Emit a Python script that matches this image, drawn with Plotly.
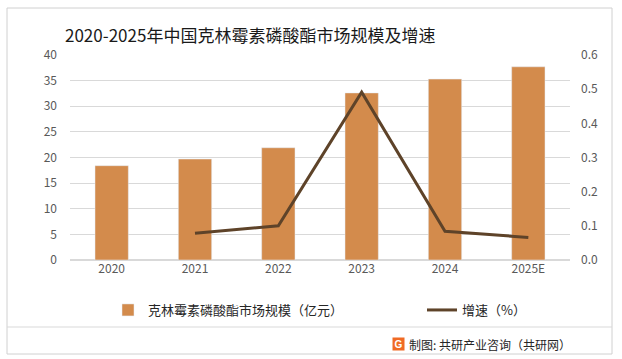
import plotly.graph_objects as go

years = ["2020", "2021", "2022", "2023", "2024", "2025E"]
market_size = [18.4, 19.7, 21.9, 32.6, 35.3, 37.7]
growth_years = ["2021", "2022", "2023", "2024", "2025E"]
growth_rate = [0.078, 0.10, 0.491, 0.084, 0.066]

bar_name = "克林霉素磷酸酯市场规模（亿元）"
line_name = "增速（%）"
title_text = "2020-2025年中国克林霉素磷酸酯市场规模及增速"
footer_text = "制图: 共研产业咨询（共研网）"

W, H = 622, 359
L, R, T, B = 70, 52, 55, 99
PW, PH = W - L - R, H - T - B


def px_x(x):
    return (x - L) / PW


def px_y(y):
    return (H - B - y) / PH


fig = go.Figure()
fig.add_trace(go.Bar(x=years, y=market_size, name=bar_name, marker_color="#D38B4C",
                     width=0.4, yaxis="y", legend="legend"))
fig.add_trace(go.Scatter(x=growth_years, y=growth_rate, name=line_name, mode="lines",
                         line=dict(color="#5E4329", width=3), yaxis="y2", legend="legend2"))

font_family = "Noto Sans CJK SC, Microsoft YaHei, sans-serif"
tick_font = dict(family=font_family, size=12, color="#595959")
leg_font = dict(family=font_family, size=13, color="#262626")

fig.update_layout(
    width=W, height=H,
    margin=dict(l=L, r=R, t=T, b=B, autoexpand=False),
    paper_bgcolor="white", plot_bgcolor="white",
    font=dict(family=font_family),
    showlegend=True,
    legend=dict(orientation="h", x=px_x(108), y=px_y(310), xanchor="left", yanchor="middle",
                font=leg_font, bgcolor="rgba(0,0,0,0)"),
    legend2=dict(orientation="h", x=px_x(422), y=px_y(310), xanchor="left", yanchor="middle",
                 font=leg_font, bgcolor="rgba(0,0,0,0)"),
    xaxis=dict(tickfont=tick_font, showgrid=False, showline=False, ticks="",
               categoryorder="array", categoryarray=years),
    yaxis=dict(range=[0, 40], dtick=5, tickfont=tick_font, gridcolor="#D9D9D9",
               gridwidth=1, zeroline=True, zerolinecolor="#D9D9D9", showline=False,
               ticks="", ticklabelstandoff=12),
    yaxis2=dict(range=[0, 0.6], dtick=0.1, tickformat=".1f", overlaying="y", side="right",
                showgrid=False, zeroline=False, tickfont=tick_font, ticklabelstandoff=10),
    bargap=0.6,
)

# title
fig.add_annotation(text=title_text, xref="paper", yref="paper",
                   x=px_x(250), y=px_y(35),
                   xanchor="center", yanchor="middle", showarrow=False,
                   font=dict(family=font_family, size=17, color="#1a1a1a"))

# frame and separator
fig.add_shape(type="rect", xref="paper", yref="paper",
              x0=px_x(7), x1=px_x(612), y0=px_y(354), y1=px_y(8),
              line=dict(color="#D0D0D0", width=1), fillcolor="rgba(0,0,0,0)")
fig.add_shape(type="line", xref="paper", yref="paper",
              x0=px_x(7), x1=px_x(612), y0=px_y(327), y1=px_y(327),
              line=dict(color="#D9D9D9", width=1))

# footer logo + text
fig.add_annotation(text="<b>G</b>", xref="paper", yref="paper",
                   x=px_x(398), y=px_y(344),
                   xanchor="center", yanchor="middle", showarrow=False,
                   bgcolor="#F06A24", borderpad=0, width=11, height=12,
                   font=dict(family="Liberation Sans", size=10, color="white"))
fig.add_annotation(text=footer_text, xref="paper", yref="paper",
                   x=px_x(407), y=px_y(344),
                   xanchor="left", yanchor="middle", showarrow=False,
                   font=dict(family=font_family, size=12, color="#262626"))

fig.write_html("out.html", config={"displayModeBar": False},
               post_script="document.body.style.margin='0';document.body.style.overflow='hidden';")
